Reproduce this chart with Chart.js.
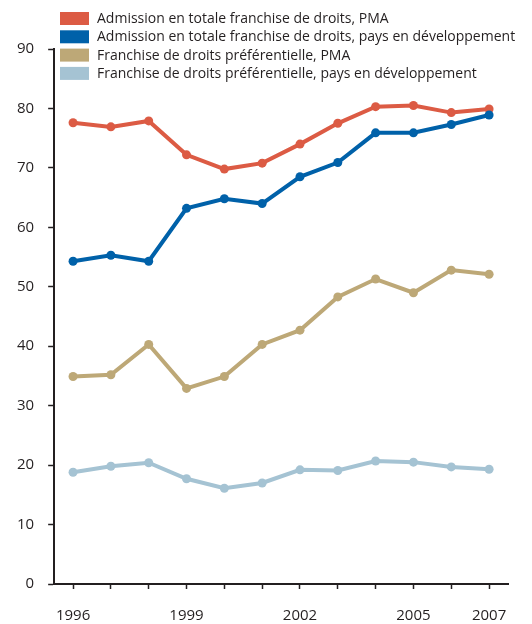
<!DOCTYPE html>
<html>
<head>
<meta charset="utf-8">
<script src="https://cdn.jsdelivr.net/npm/chart.js@4.4.1/dist/chart.umd.min.js"></script>
<style>
  html, body { margin: 0; padding: 0; background: #fff; }
</style>
</head>
<body>
<canvas id="graf-franchise" width="532" height="624"></canvas>
<script>
const annees = ["1996", "1997", "1998", "1999", "2000", "2001", "2002", "2003", "2004", "2005", "2006", "2007"];
const anneesAffichees = ["1996", "1999", "2002", "2005", "2007"];

const totalePMA = [77.6, 76.9, 77.9, 72.2, 69.8, 70.8, 74.0, 77.5, 80.3, 80.5, 79.3, 79.9];
const totalePED = [54.3, 55.3, 54.3, 63.2, 64.8, 64.0, 68.5, 70.9, 75.9, 75.9, 77.3, 78.9];
const prefPMA = [34.9, 35.2, 40.3, 32.9, 34.9, 40.3, 42.7, 48.3, 51.3, 49.0, 52.8, 52.1];
const prefPED = [18.8, 19.8, 20.4, 17.7, 16.1, 17.0, 19.2, 19.1, 20.7, 20.5, 19.7, 19.3];

const etiquettes = [
    "Admission en totale franchise de droits, PMA",
    "Admission en totale franchise de droits, pays en développement",
    "Franchise de droits préférentielle, PMA",
    "Franchise de droits préférentielle, pays en développement"
];
const couleurs = ["#dc5b44", "#0061a9", "#bda877", "#a5c3d3"];

const encre = "#231f20";
const police = "'Open Sans', 'Noto Sans', sans-serif";

// légende dessinée à la main, au-dessus du haut de l'axe
const legendeFixe = {
    id: "legendeFixe",
    afterDraw(chart) {
        const ctx = chart.ctx;
        ctx.save();
        ctx.font = "14px " + police;
        ctx.textBaseline = "middle";
        chart.data.datasets.forEach((ds, i) => {
            const y = 12 + i * 18.3;
            ctx.fillStyle = ds.borderColor;
            ctx.fillRect(60, y, 29, 13);
            ctx.fillStyle = encre;
            ctx.fillText(ds.label, 97, y + 7);
        });
        ctx.restore();
    }
};

const series = [totalePMA, totalePED, prefPMA, prefPED];

new Chart("graf-franchise", {
    type: "line",
    data: {
        labels: annees,
        datasets: series.map((valeurs, i) => ({
            label: etiquettes[i],
            data: valeurs,
            borderColor: couleurs[i],
            backgroundColor: couleurs[i],
            borderWidth: 4,
            pointRadius: 4.5,
            pointBorderWidth: 0,
            tension: 0,
            order: 4 - i
        }))
    },
    options: {
        responsive: false,
        animation: false,
        layout: { padding: { left: 3, right: 24, top: 49, bottom: -19 } },
        plugins: {
            legend: { display: false },
            tooltip: { enabled: false }
        },
        scales: {
            x: {
                offset: true,
                grid: {
                    drawOnChartArea: false,
                    drawTicks: true,
                    tickLength: 5,
                    tickWidth: 1.5,
                    tickColor: encre
                },
                border: { display: true, color: encre, width: 2 },
                ticks: {
                    autoSkip: false,
                    maxRotation: 0,
                    padding: 18,
                    color: encre,
                    font: { family: police, size: 15 },
                    callback(v) {
                        const a = annees[v];
                        return anneesAffichees.includes(a) ? a : "";
                    }
                }
            },
            y: {
                min: 0,
                max: 90,
                grid: {
                    drawOnChartArea: false,
                    drawTicks: true,
                    tickLength: 6,
                    tickWidth: 1.5,
                    tickColor: encre
                },
                border: { display: true, color: encre, width: 2 },
                ticks: {
                    stepSize: 10,
                    padding: 14,
                    color: encre,
                    font: { family: police, size: 15 }
                }
            }
        }
    },
    plugins: [legendeFixe]
});
</script>
</body>
</html>
